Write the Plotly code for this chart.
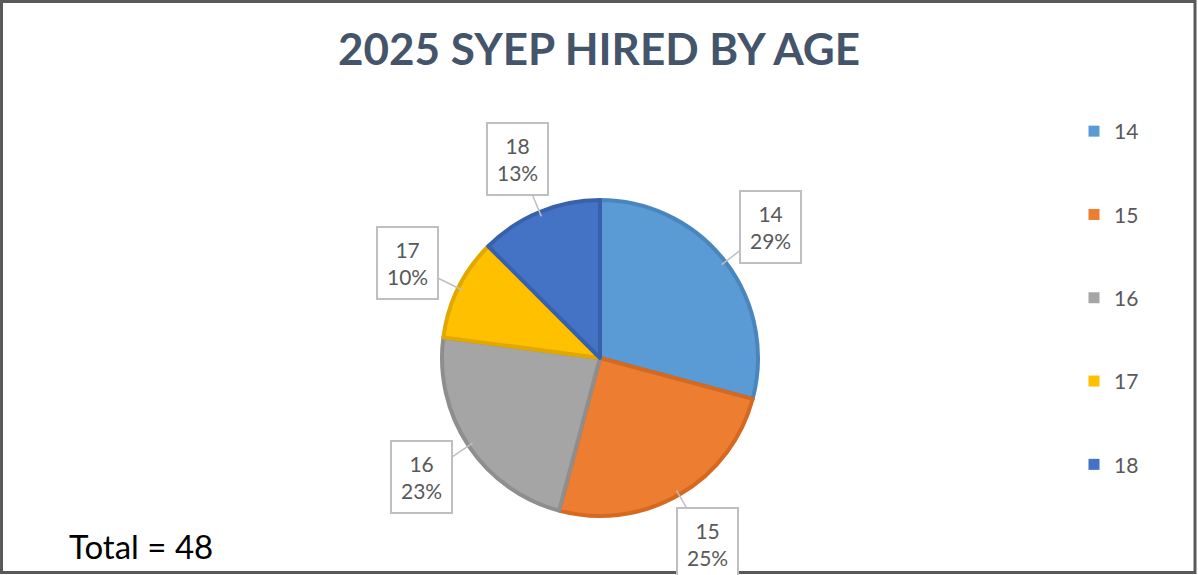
import math
import plotly.graph_objects as go

# Hired counts by age
ages = ["14", "15", "16", "17", "18"]
hired = [14, 12, 11, 5, 6]
slice_colors = ["#5B9BD5", "#ED7D31", "#A5A5A5", "#FFC000", "#4472C4"]
edge_colors = ["#4A86BE", "#D5691F", "#8E8E8E", "#E0A800", "#3960AA"]

W, H = 1198, 575
CX, CY, R = 600, 358, 158  # pie centre / radius in pixels

total = sum(hired)
pct = [math.floor(v / total * 100 + 0.5) for v in hired]

fig = go.Figure()

fig.add_trace(go.Pie(
    labels=ages,
    values=hired,
    sort=False,
    direction="clockwise",
    rotation=0,
    marker=dict(colors=slice_colors, line=dict(color=edge_colors, width=4)),
    textinfo="none",
    hoverinfo="label+value+percent",
    showlegend=False,
    domain=dict(x=[(CX - R) / W, (CX + R) / W],
                y=[(H - CY - R) / H, (H - CY + R) / H]),
))

# legend entries
for a, c in zip(ages, slice_colors):
    fig.add_trace(go.Scatter(
        x=[None], y=[None], mode="markers", name=a, legendgroup=a,
        marker=dict(symbol="square", size=11, color=c),
    ))

# boxed data labels with leader lines
annotations = []
start = 0.0
for a, v, p in zip(ages, hired, pct):
    mid = (start + v / 2) / total * 2 * math.pi
    start += v
    ux, uy = math.sin(mid), -math.cos(mid)
    ex, ey = CX + ux * R * 0.97, CY + uy * R * 0.97
    lx, ly = CX + ux * R * 1.36, CY + uy * R * 1.36
    annotations.append(dict(
        x=ex / W, y=1 - ey / H, xref="paper", yref="paper",
        ax=lx - ex, ay=ly - ey, axref="pixel", ayref="pixel",
        text=f"{a}<br>{p}%",
        showarrow=True, arrowhead=0, arrowwidth=1.5, arrowcolor="#BFBFBF",
        font=dict(family="Lato, Carlito, sans-serif", size=21, color="#595959"),
        align="center",
        bordercolor="#BFBFBF", borderwidth=2, borderpad=9, bgcolor="white",
    ))

annotations.append(dict(
    x=67 / W, y=1 - 546 / H, xref="paper", yref="paper",
    xanchor="left", yanchor="middle", showarrow=False,
    text=f"Total = {total}",
    font=dict(family="Lato, Carlito, sans-serif", size=33, color="#000000"),
))

fig.update_layout(
    width=W, height=H,
    margin=dict(l=0, r=0, t=0, b=0),
    paper_bgcolor="white", plot_bgcolor="white",
    title=dict(
        text="<b>2025 SYEP HIRED BY AGE</b>",
        x=0.5, xanchor="center", y=1 - 50 / H, yanchor="middle",
        xref="paper", yref="paper",
        font=dict(family="Lato, Carlito, sans-serif", size=44, color="#44546A"),
    ),
    xaxis=dict(visible=False), yaxis=dict(visible=False),
    legend=dict(
        x=1074 / W, y=1 - 111 / H, xanchor="left", yanchor="top",
        traceorder="grouped", tracegroupgap=53,
        font=dict(family="Lato, Carlito, sans-serif", size=21, color="#595959"),
        itemwidth=30, bgcolor="rgba(0,0,0,0)",
    ),
    annotations=annotations,
    shapes=[dict(
        type="rect", xref="paper", yref="paper",
        x0=1.5 / W, x1=1 - 3 / W, y0=2.5 / H, y1=1 - 1.5 / H,
        line=dict(color="#595959", width=3), fillcolor="rgba(0,0,0,0)",
    )],
)

fig.write_html("out.html")
